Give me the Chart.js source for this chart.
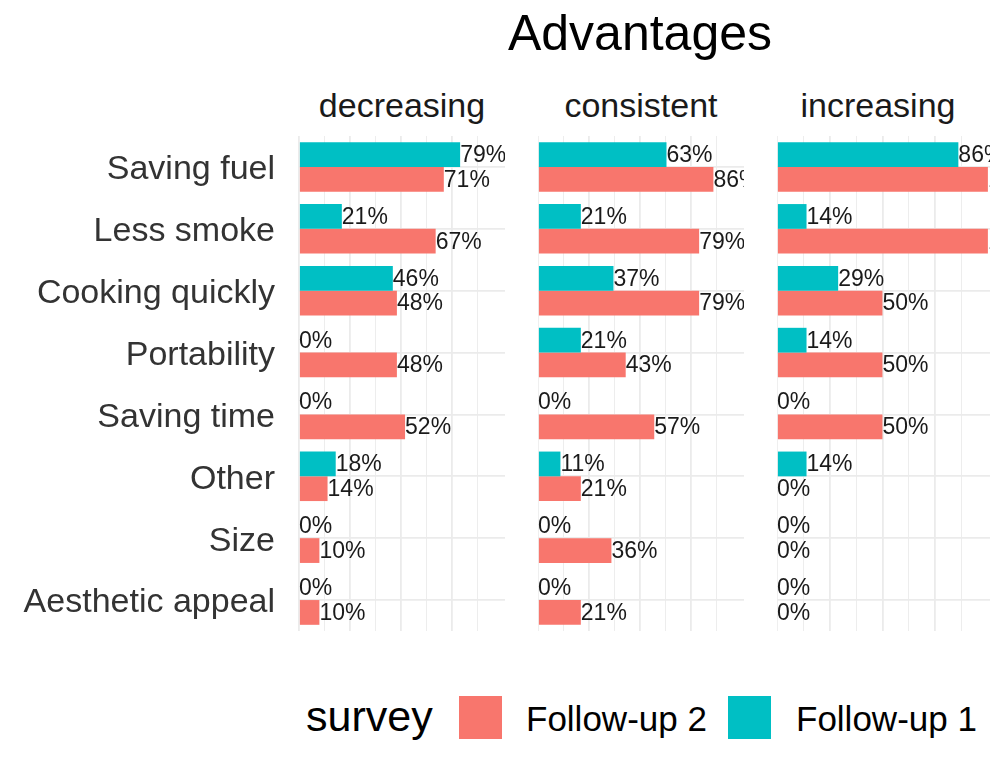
<!DOCTYPE html>
<html>
<head>
<meta charset="utf-8">
<script src="https://cdn.jsdelivr.net/npm/chart.js@4"></script>
<style>
  body { margin: 0; background: #fff; width: 990px; height: 757px; position: relative; overflow: hidden;
         font-family: "Liberation Sans", Arial, sans-serif; }
  .txt { position: absolute; white-space: nowrap; line-height: 1; }
  canvas { position: absolute; }
  .key { position: absolute; width: 43px; height: 43px; }
</style>
</head>
<body>
<div class="txt" id="title" style="font-size:50px; color:#000; top:8px; left:640px; transform:translateX(-50%);">Advantages</div>
<div class="txt" style="font-size:34px; color:#1a1a1a; top:88px; left:402px; transform:translateX(-50%);">decreasing</div>
<div class="txt" style="font-size:34px; color:#1a1a1a; top:88px; left:641px; transform:translateX(-50%);">consistent</div>
<div class="txt" style="font-size:34px; color:#1a1a1a; top:88px; left:878px; transform:translateX(-50%);">increasing</div>

<canvas id="c0" width="505" height="495" style="left:0px; top:136px;"></canvas>
<canvas id="c1" width="206" height="495" style="left:538px; top:136px;"></canvas>
<canvas id="c2" width="213" height="495" style="left:777px; top:136px;"></canvas>

<!-- legend -->
<div class="txt" style="font-size:43px; color:#000; top:695px; left:306px;">survey</div>
<div class="key" style="left:459px; top:696px; background:#F8766D;"></div>
<div class="txt" style="font-size:35px; color:#000; top:701px; left:526px;">Follow-up 2</div>
<div class="key" style="left:728px; top:696px; background:#00BFC4;"></div>
<div class="txt" style="font-size:35px; color:#000; top:701px; left:796px;">Follow-up 1</div>

<script>
// categories (top to bottom)
const categories = ['Saving fuel', 'Less smoke', 'Cooking quickly', 'Portability',
                    'Saving time', 'Other', 'Size', 'Aesthetic appeal'];

// percentages per panel
const decreasingF1 = [79, 21, 46, 0, 0, 18, 0, 0];
const decreasingF2 = [71, 67, 48, 48, 52, 14, 10, 10];
const consistentF1 = [63, 21, 37, 21, 0, 11, 0, 0];
const consistentF2 = [86, 79, 79, 43, 57, 21, 36, 21];
const increasingF1 = [86, 14, 29, 14, 0, 14, 0, 0];
const increasingF2 = [100, 100, 50, 50, 50, 0, 0, 0];

const colF1 = '#00BFC4';
const colF2 = '#F8766D';

// draws "xx%" at the end of every bar
const valueLabels = {
  id: 'valueLabels',
  afterDatasetsDraw(chart) {
    const ctx = chart.ctx;
    ctx.save();
    ctx.font = '23px "Liberation Sans", Arial, sans-serif';
    ctx.fillStyle = '#1a1a1a';
    ctx.textAlign = 'left';
    ctx.textBaseline = 'middle';
    chart.data.datasets.forEach((ds, i) => {
      chart.getDatasetMeta(i).data.forEach((bar, j) => {
        ctx.fillText(ds.data[j] + '%', bar.x, bar.y + 1);
      });
    });
    ctx.restore();
  }
};

function makePanel(id, f1, f2, showLabels) {
  return new Chart(document.getElementById(id), {
    type: 'bar',
    data: {
      labels: categories,
      datasets: [
        { label: 'Follow-up 1', data: f1, backgroundColor: colF1 },
        { label: 'Follow-up 2', data: f2, backgroundColor: colF2 }
      ]
    },
    options: {
      indexAxis: 'y',
      responsive: false,
      animation: false,
      devicePixelRatio: 1,
      categoryPercentage: 0.8,
      barPercentage: 1.0,
      layout: { padding: 0 },
      plugins: { legend: { display: false }, tooltip: { enabled: false } },
      scales: {
        x: {
          min: 0,
          max: 101,
          ticks: { display: false, stepSize: 12.5 },
          border: { display: false },
          grid: {
            drawTicks: false,
            color: '#EBEBEB',
            lineWidth: (c) => (c.tick && c.tick.value % 25 === 0) ? 1.8 : 0.9
          },
          afterBuildTicks: (s) => { s.ticks = s.ticks.filter(t => t.value % 12.5 === 0); },
          afterFit: (s) => { s.height = 0; s.paddingLeft = 0; s.paddingRight = 0; }
        },
        y: {
          ticks: {
            display: showLabels,
            padding: 24,
            labelOffset: 3,
            color: '#333333',
            font: { family: '"Liberation Sans", Arial, sans-serif', size: 34 }
          },
          border: { display: false },
          grid: { offset: false, drawTicks: false, color: '#EBEBEB', lineWidth: 1.8 },
          afterFit: (s) => {
            s.width = showLabels ? 299 : 0;
            s.paddingTop = 0;
            s.paddingBottom = 0;
          }
        }
      }
    },
    plugins: [valueLabels]
  });
}

makePanel('c0', decreasingF1, decreasingF2, true);
makePanel('c1', consistentF1, consistentF2, false);
makePanel('c2', increasingF1, increasingF2, false);
</script>
</body>
</html>
